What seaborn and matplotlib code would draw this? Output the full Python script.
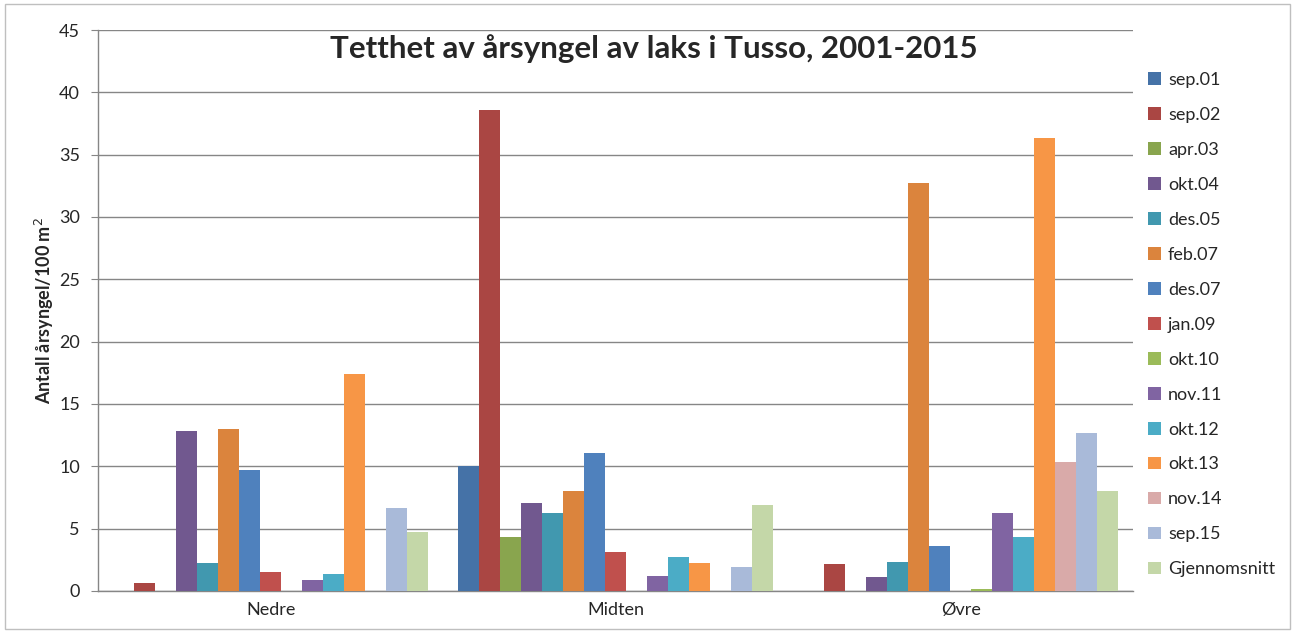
import pandas as pd
import seaborn as sns
import matplotlib.pyplot as plt
from matplotlib.patches import Rectangle

# data
stations = ["Nedre", "Midten", "Øvre"]
dates = ["sep.01", "sep.02", "apr.03", "okt.04", "des.05", "feb.07", "des.07",
         "jan.09", "okt.10", "nov.11", "okt.12", "okt.13", "nov.14", "sep.15",
         "Gjennomsnitt"]
nedre = [0, 0.67, 0, 12.85, 2.25, 12.97, 9.7, 1.55, 0, 0.9, 1.39, 17.4, 0, 6.63, 4.76]
midten = [10.05, 38.6, 4.36, 7.08, 6.23, 8.02, 11.09, 3.15, 0, 1.2, 2.75, 2.22, 0, 1.95, 6.9]
ovre = [0, 2.14, 0, 1.1, 2.33, 32.74, 3.63, 0, 0.16, 6.23, 4.36, 36.3, 10.34, 12.7, 8.02]

colors = ["#4572A7", "#AA4643", "#89A54E", "#71588F", "#4198AF", "#DB843D",
          "#4F81BD", "#C0504D", "#9BBB59", "#8064A2", "#4BACC6", "#F79646",
          "#D9AAA9", "#A9BAD9", "#C4D7A8"]

rows = []
for st, vals in zip(stations, [nedre, midten, ovre]):
    for d, v in zip(dates, vals):
        rows.append({"Stasjon": st, "Dato": d, "Tetthet": v})
df = pd.DataFrame(rows)

sns.set_style("white")
plt.rcParams["font.family"] = ["Lato", "DejaVu Sans"]

fig = plt.figure(figsize=(12.95, 6.33), dpi=100)
ax = fig.add_axes([0.0757, 0.0664, 0.7995, 0.8862])

sns.barplot(data=df, x="Stasjon", y="Tetthet", hue="Dato", hue_order=dates,
            order=stations, palette=colors, saturation=1, width=0.913,
            linewidth=0, ax=ax, zorder=3)

ax.set_ylim(0, 45)
ax.set_xlim(-0.5, 2.5)
ax.set_yticks(range(0, 46, 5))
ax.yaxis.grid(True, color="#868686", linewidth=1)
ax.set_axisbelow(True)
for s in ["top", "right"]:
    ax.spines[s].set_visible(False)
for s in ["left", "bottom"]:
    ax.spines[s].set_color("#868686")
    ax.spines[s].set_linewidth(1)

ax.set_xticks([0, 1, 2])
ax.set_xticklabels(stations)
ax.set_xticks([0.5, 1.5, 2.5], minor=True)
ax.tick_params(axis="x", which="major", length=0, labelsize=13, pad=8)
ax.tick_params(axis="x", which="minor", length=5, color="#868686", direction="out")
ax.tick_params(axis="y", length=5, color="#868686", labelsize=13, pad=8, left=True)

ax.set_xlabel("")
ax.set_ylabel("Antall årsyngel/100 m$^2$", fontsize=13, fontweight="bold", labelpad=2)

fig.text(0.505, 0.924, "Tetthet av årsyngel av laks i Tusso, 2001-2015",
         ha="center", va="center", fontsize=22.5, fontweight="bold")

ax.legend(loc="upper left", bbox_to_anchor=(0.874, 0.912), bbox_transform=fig.transFigure,
          frameon=False, fontsize=13, handlelength=0.7, handleheight=0.7,
          handletextpad=0.4, labelspacing=1.05)

# outer chart border
fig.patches.append(Rectangle((0.004, 0.006), 0.992, 0.988, transform=fig.transFigure,
                             fill=False, edgecolor="#BFBFBF", linewidth=1))

plt.savefig("out.png", dpi=100)
